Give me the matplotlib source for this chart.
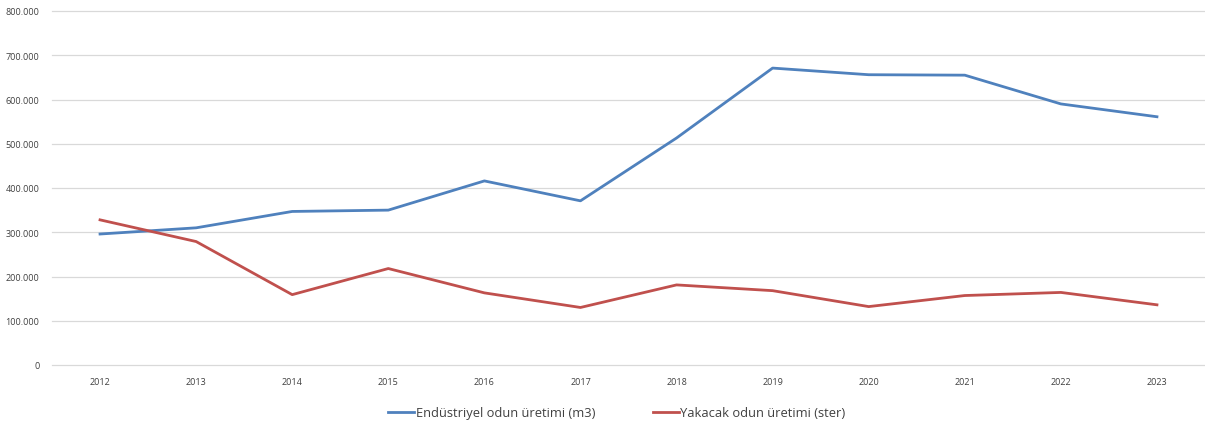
import matplotlib.pyplot as plt
from matplotlib.ticker import FuncFormatter

years = ["2012", "2013", "2014", "2015", "2016", "2017",
         "2018", "2019", "2020", "2021", "2022", "2023"]
endustriyel = [296000, 310000, 347000, 350000, 416000, 371000,
               513000, 671000, 656000, 655000, 590000, 561000]
yakacak = [328000, 279000, 159000, 218000, 163000, 130000,
           181000, 168000, 132000, 157000, 164000, 136000]
labels = ["Endüstriyel odun üretimi (m3)", "Yakacak odun üretimi (ster)"]

plt.rcParams['font.family'] = ['Open Sans', 'DejaVu Sans']

fig = plt.figure(figsize=(12.05, 4.27), dpi=100)
ax = fig.add_axes([52 / 1205, 61 / 427, 1 - 52 / 1205, (366 - 12) / 427])

x = list(range(len(years)))
ax.plot(x, endustriyel, color="#4F81BD", lw=2.0, label=labels[0])
ax.plot(x, yakacak, color="#C0504D", lw=2.0, label=labels[1])

ax.set_xlim(-0.5, len(years) - 0.5)
ax.set_ylim(0, 800000)
ax.set_yticks(range(0, 800001, 100000))
ax.yaxis.set_major_formatter(FuncFormatter(lambda v, p: f"{int(v):,}".replace(",", ".")))
ax.set_xticks(x)
ax.set_xticklabels(years)
ax.tick_params(length=0, labelsize=6.5, colors="#404040")
ax.tick_params(axis="y", pad=9)
ax.tick_params(axis="x", pad=9)
ax.grid(axis="y", color="#D9D9D9", lw=0.9)
for g in ax.get_ygridlines():
    g.set_clip_on(False)
ax.set_axisbelow(True)
for s in ax.spines.values():
    s.set_visible(False)

fig.legend(loc="center", bbox_to_anchor=(0.512, 13 / 427), ncol=2, frameon=False,
           fontsize=9.3, handlelength=2.0, handletextpad=0.1, columnspacing=4.5,
           labelcolor="#404040")

fig.savefig("out.png", dpi=100)
